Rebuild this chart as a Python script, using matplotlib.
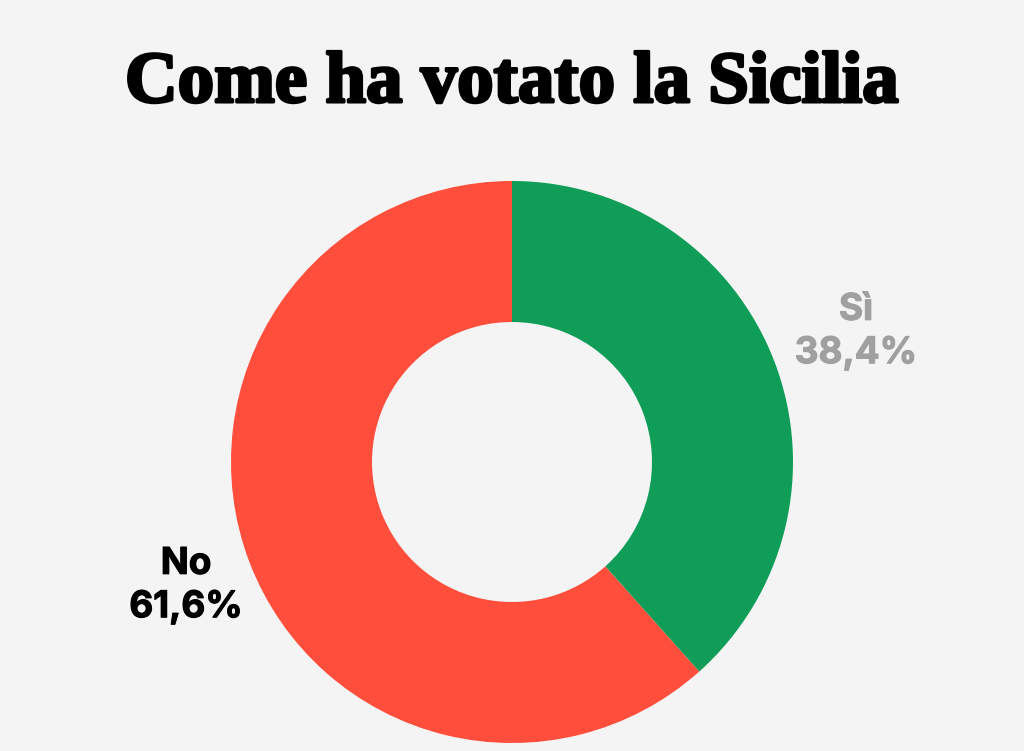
import matplotlib.pyplot as plt
import matplotlib.patheffects as pe

# Dati
labels = ["Sì\n38,4%", "No\n61,6%"]
values = [38.4, 61.6]
colors = ["#0f9d58", "#ff4e3c"]
label_colors = ["#a0a0a0", "#000000"]
title = "Come ha votato la Sicilia"

W, H = 1024, 751
bg = "#f4f4f4"

fig = plt.figure(figsize=(W / 100, H / 100), dpi=100, facecolor=bg)

# asse in pixel: centro (512, 462), raggio 281
cx, cy, r = 512, 462, 281
ax = fig.add_axes([(cx - r) / W, 1 - (cy + r) / H, 2 * r / W, 2 * r / H])
ax.set_facecolor(bg)
ax.pie(values, colors=colors, startangle=90, counterclock=False, radius=1,
       wedgeprops=dict(width=1 - 140 / 281, linewidth=0))
ax.set_xlim(-1, 1)
ax.set_ylim(-1, 1)
ax.set_aspect("equal")
ax.axis("off")

t = fig.text(512 / W, 1 - 84 / H, title, ha="center", va="center", fontsize=52.5,
             family="Liberation Serif", fontweight="bold", color="#000000")
t.set_path_effects([pe.withStroke(linewidth=2.2, foreground="#000000")])

t1 = fig.text(856 / W, 1 - 332 / H, labels[0], ha="center", va="center", fontsize=26.5,
              family="Inter", fontweight="bold", color=label_colors[0], linespacing=1.4)
t2 = fig.text(186 / W, 1 - 586 / H, labels[1], ha="center", va="center", fontsize=26.5,
              family="Inter", fontweight="bold", color=label_colors[1], linespacing=1.4)
t1.set_path_effects([pe.withStroke(linewidth=0.8, foreground=label_colors[0])])
t2.set_path_effects([pe.withStroke(linewidth=0.8, foreground=label_colors[1])])

fig.savefig("out.png", dpi=100, facecolor=bg)
